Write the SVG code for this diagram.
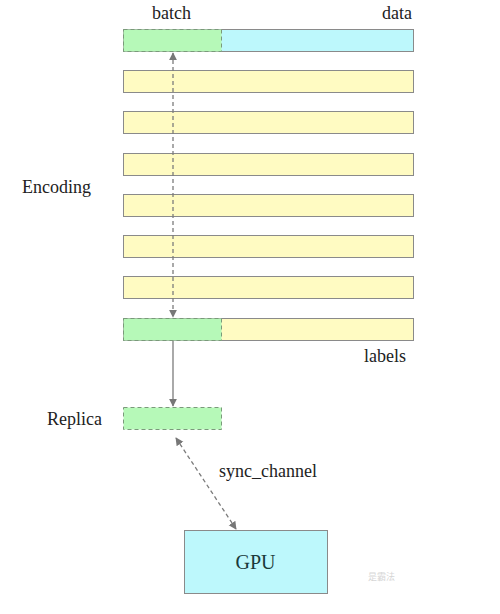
<svg xmlns="http://www.w3.org/2000/svg" width="500" height="614" viewBox="0 0 500 614">
<style>
.t{font-family:"Liberation Serif","Times New Roman",Times,"DejaVu Serif","Noto Serif",Georgia,serif;font-size:18px;fill:#222}
.bar{stroke:#8a8a8a;stroke-width:1}
.y{fill:#fffbc2}
.c{fill:#bdf8fc}
.g{fill:#b6f9b8;stroke:#7a9a7a;stroke-width:1;stroke-dasharray:4,3}
.ln{stroke:#7c7c7c;stroke-width:1.3;fill:none}
.dash{stroke-dasharray:4,3}
</style>
<defs>
<marker id="ah" viewBox="0 0 10 10" refX="9" refY="5" markerWidth="8" markerHeight="10" markerUnits="userSpaceOnUse" orient="auto-start-reverse">
<path d="M0,0 L10,5 L0,10 z" fill="#777"/>
</marker>
</defs>
<rect width="500" height="614" fill="#fff"/>
<g id="data-label"><text class="t" x="152" y="19">batch</text><text class="t" x="412" y="19" text-anchor="end">data</text></g>
<g id="row0"><rect class="bar c" x="123.5" y="29.5" width="290" height="22"/><rect class="g" x="123.5" y="29.5" width="98" height="22"/></g>
<g id="row1"><rect class="bar y" x="123.5" y="70.5" width="290" height="22"/></g>
<g id="row2"><rect class="bar y" x="123.5" y="111.5" width="290" height="22"/></g>
<g id="row3"><rect class="bar y" x="123.5" y="153.5" width="290" height="22"/></g>
<g id="row4"><rect class="bar y" x="123.5" y="194.5" width="290" height="22"/></g>
<g id="row5"><rect class="bar y" x="123.5" y="235.5" width="290" height="22"/></g>
<g id="row6"><rect class="bar y" x="123.5" y="276.5" width="290" height="22"/></g>
<g id="row7"><rect class="bar y" x="123.5" y="318.5" width="290" height="22"/><rect class="g" x="123.5" y="318.5" width="98" height="22"/></g>
<g id="encoding"><text class="t" x="22" y="193">Encoding</text></g>
<g id="labels"><text class="t" x="406" y="362" text-anchor="end">labels</text></g>
<g id="replica"><text class="t" x="102" y="425" text-anchor="end">Replica</text><rect class="g" x="123.5" y="407.5" width="98" height="22"/></g>
<g id="sync"><text class="t" x="219" y="477">sync_channel</text></g>
<g id="gpu"><rect class="bar c" x="184.5" y="530.5" width="143" height="63"/><text class="t" x="255.5" y="569" text-anchor="middle" style="font-size:20px;fill:#1a3a3a">GPU</text></g>
<g id="watermark" opacity="0.35"><text x="368" y="580" style="font-size:9px;fill:#888;font-family:'Noto Sans CJK SC',sans-serif">是霸法</text></g>
<g id="connectors">
<line class="ln dash" x1="173" y1="53" x2="173" y2="317" marker-start="url(#ah)" marker-end="url(#ah)"/>
<line class="ln" x1="173" y1="341" x2="173" y2="406" marker-end="url(#ah)"/>
<line class="ln dash" x1="176" y1="438" x2="236" y2="529" marker-start="url(#ah)" marker-end="url(#ah)"/>
</g>
</svg>
